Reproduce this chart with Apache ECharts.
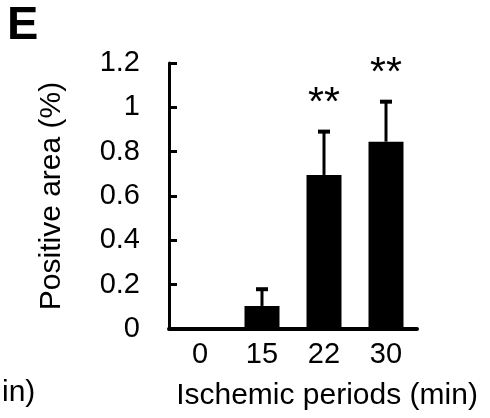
<!DOCTYPE html>
<html>
<head>
<meta charset="utf-8">
<script src="https://cdn.jsdelivr.net/npm/echarts@6/dist/echarts.min.js"></script>
<style>
  html, body { margin: 0; padding: 0; background: #fff; }
  #chart { width: 490px; height: 418px; }
</style>
</head>
<body>
<div id="chart"></div>
<script>
const categories = ["0", "15", "22", "30"];
const meanValues = [0, 0.104, 0.695, 0.845];
const errorValues = [0, 0.08, 0.2, 0.185];
const sigLabels = ["", "", "**", "**"];

const font = "Liberation Sans, Arial, sans-serif";
const chart = echarts.init(document.getElementById("chart"));

chart.setOption({
  animation: false,
  backgroundColor: "#fff",
  grid: { left: 169, right: 73, top: 63, bottom: 89 },
  graphic: [
    { type: "text", left: 7, top: 3, style: { text: "E", font: "bold 47px " + font, fill: "#000" } },
    { type: "text", left: 2, top: 378, style: { text: "in)", font: "30px " + font, fill: "#000" } },
  ],
  xAxis: {
    type: "category",
    data: categories,
    name: "Ischemic periods (min)",
    nameLocation: "middle",
    nameGap: 52,
    nameTextStyle: { color: "#000", fontSize: 30, fontFamily: font, padding: [0, 0, 0, 68] },
    axisLine: { lineStyle: { color: "#000", width: 4 } },
    axisTick: { show: false },
    axisLabel: { color: "#000", fontSize: 29, fontFamily: font, margin: 11 },
  },
  yAxis: {
    type: "value",
    min: 0,
    max: 1.2,
    interval: 0.2,
    name: "Positive area (%)",
    nameLocation: "middle",
    nameGap: 92,
    nameTextStyle: { color: "#000", fontSize: 30, fontFamily: font, padding: [0, 0, 10, 0] },
    axisLine: { show: true, lineStyle: { color: "#000", width: 3 } },
    axisTick: { show: true, inside: true, length: 8, lineStyle: { color: "#000", width: 3 } },
    axisLabel: { color: "#000", fontSize: 29, fontFamily: font, margin: 29 },
    splitLine: { show: false },
  },
  series: [
    {
      type: "bar",
      data: meanValues,
      barWidth: 35,
      itemStyle: { color: "#000" },
    },
    {
      type: "custom",
      data: categories.map((c, i) => [i, meanValues[i], errorValues[i]]),
      renderItem: (params, api) => {
        const idx = api.value(0);
        const mean = api.value(1);
        const err = api.value(2);
        const sig = sigLabels[idx];
        const base = api.coord([idx, mean]);
        const top = api.coord([idx, mean + err]);
        const children = [];
        if (err > 0) {
          children.push({
            type: "line",
            shape: { x1: base[0], y1: base[1], x2: top[0], y2: top[1] + 1 },
            style: { stroke: "#000", lineWidth: 3 },
          });
          children.push({
            type: "rect",
            shape: { x: top[0] - 6, y: top[1] - 1, width: 12, height: 4 },
            style: { fill: "#000" },
          });
        }
        if (sig) {
          children.push({
            type: "text",
            style: {
              text: sig,
              x: top[0],
              y: top[1] - 27,
              align: "center",
              verticalAlign: "middle",
              font: "41px " + font,
              fill: "#000",
            },
          });
        }
        return { type: "group", children };
      },
      z: 3,
    },
  ],
});
</script>
</body>
</html>
